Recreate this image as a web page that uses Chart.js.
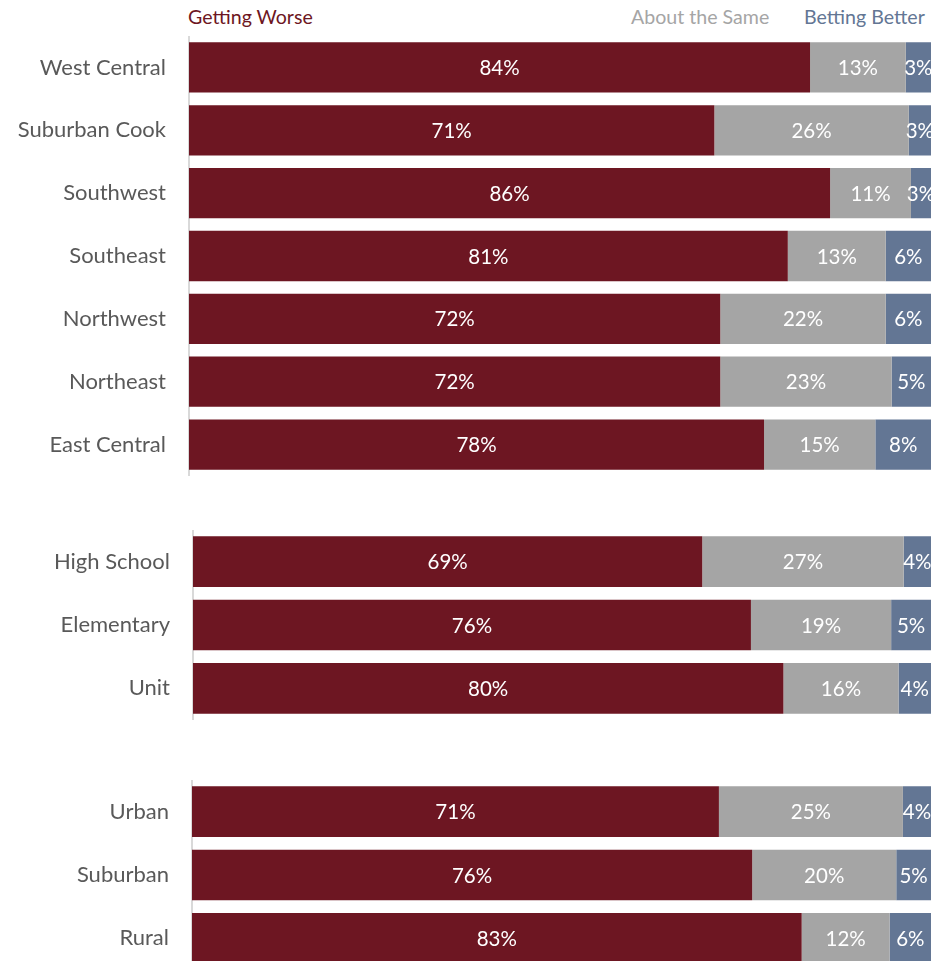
<!DOCTYPE html>
<html>
<head>
<meta charset="utf-8">
<script src="https://cdn.jsdelivr.net/npm/chart.js@4"></script>
<style>
  body { margin: 0; background: #fff; overflow: hidden; width: 944px; height: 961px; position: relative; font-family: Lato, "Open Sans", sans-serif; }
  canvas { position: absolute; left: 0; }
  .key { position: absolute; top: 5px; font-size: 19.6px; }
</style>
</head>
<body>
<div class="key" style="left:188px;color:#6d1622">Getting Worse</div>
<div class="key" style="left:631px;color:#a5a5a5">About the Same</div>
<div class="key" style="left:804px;color:#637694">Betting Better</div>
<canvas id="regions" width="944" height="440" style="top:36px"></canvas>
<canvas id="levels" width="944" height="190" style="top:530px"></canvas>
<canvas id="areas" width="944" height="190" style="top:780px"></canvas>
<script>
// regions
const regionLabels = ["West Central", "Suburban Cook", "Southwest", "Southeast", "Northwest", "Northeast", "East Central"];
const regionWorse  = [83.7, 70.8, 86.4, 80.7, 71.6, 71.6, 77.5];
const regionSame   = [12.9, 26.2, 10.9, 13.2, 22.3, 23.1, 15.0];
const regionBetter = [3.4, 3.0, 2.7, 6.1, 6.1, 5.3, 7.5];

// school level
const levelLabels = ["High School", "Elementary", "Unit"];
const levelWorse  = [69.0, 75.6, 80.0];
const levelSame   = [27.3, 19.0, 15.6];
const levelBetter = [3.7, 5.4, 4.4];

// locale
const areaLabels = ["Urban", "Suburban", "Rural"];
const areaWorse  = [71.3, 75.8, 82.5];
const areaSame   = [24.9, 19.5, 11.9];
const areaBetter = [3.8, 4.7, 5.6];

const colors = ["#6d1622", "#a5a5a5", "#637694"];

// white % labels in the middle of each segment
const segLabels = {
    id: "segLabels",
    afterDatasetsDraw(chart) {
        const ctx = chart.ctx;
        ctx.save();
        ctx.font = "20.5px Lato";
        ctx.fillStyle = "#fff";
        ctx.textAlign = "center";
        ctx.textBaseline = "middle";
        chart.data.datasets.forEach((ds, i) => {
            chart.getDatasetMeta(i).data.forEach((bar, j) => {
                const x = (bar.x + bar.base) / 2;
                ctx.fillText(Math.round(ds.data[j]) + "%", x, bar.y + 1);
            });
        });
        ctx.restore();
    }
};

function makeChart(id, labels, worse, same, better, axisX) {
    new Chart(document.getElementById(id), {
        type: "bar",
        data: {
            labels: labels,
            datasets: [
                { label: "Getting Worse", data: worse, backgroundColor: colors[0] },
                { label: "About the Same", data: same, backgroundColor: colors[1] },
                { label: "Betting Better", data: better, backgroundColor: colors[2] }
            ]
        },
        options: {
            indexAxis: "y",
            responsive: false,
            animation: false,
            devicePixelRatio: 1,
            layout: { padding: { left: 0, right: 13, top: 0, bottom: 0 } },
            datasets: { bar: { categoryPercentage: 1, barPercentage: 0.8 } },
            plugins: { legend: { display: false }, tooltip: { enabled: false } },
            scales: {
                x: { stacked: true, min: 0, max: 100, display: false },
                y: {
                    stacked: true,
                    grid: { display: false },
                    border: { display: true, color: "#d9d9d9", width: 2 },
                    ticks: { color: "#595959", font: { family: "Lato", size: 22 }, padding: 15 },
                    afterFit: s => { s.width = axisX; s.paddingTop = 0; s.paddingBottom = 0; }
                }
            }
        },
        plugins: [segLabels]
    });
}

makeChart("regions", regionLabels, regionWorse, regionSame, regionBetter, 189);
makeChart("levels", levelLabels, levelWorse, levelSame, levelBetter, 193);
makeChart("areas", areaLabels, areaWorse, areaSame, areaBetter, 192);
</script>
</body>
</html>
